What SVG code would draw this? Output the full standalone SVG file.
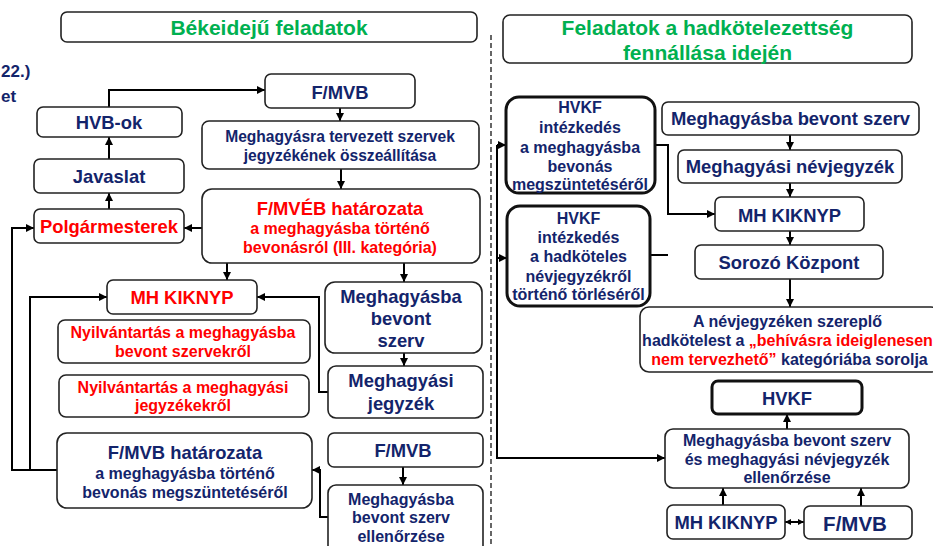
<svg xmlns="http://www.w3.org/2000/svg" width="933" height="546" viewBox="0 0 933 546">
<style>
text{font-family:"Liberation Sans",Arial,sans-serif;font-weight:bold;text-anchor:middle}
.b{fill:#fff;stroke:#222;stroke-width:1.6}
.t{fill:#fff;stroke:#111;stroke-width:3}
.n{fill:#13246b}
.r{fill:#ff0000}
.g{fill:#00b050}
.c{fill:none;stroke:#000;stroke-width:2}
.s15{font-size:15.6px}
.s16{font-size:16px}
.s18{font-size:18.4px}
.s21{font-size:21px}
</style>
<defs>
<marker id="ah" viewBox="0 0 10 10" refX="10" refY="5" markerWidth="8" markerHeight="8" markerUnits="userSpaceOnUse" orient="auto-start-reverse"><path d="M0,0 L10,5 L0,10 z" fill="#000"/></marker>
<marker id="as" viewBox="0 0 10 10" refX="10" refY="5" markerWidth="6" markerHeight="6" markerUnits="userSpaceOnUse" orient="auto-start-reverse"><path d="M0,0 L10,5 L0,10 z" fill="#000"/></marker>
</defs>

<g id="divider"><path d="M491,35 V546" fill="none" stroke="#000" stroke-width="1.2" stroke-dasharray="5,3"/></g>

<g id="fragment-text">
<text class="n" style="font-size:17px;text-anchor:start" x="1" y="77">22.)</text>
<text class="n" style="font-size:17px;text-anchor:start" x="1" y="102">et</text>
</g>

<g id="connectors">
<path class="c" d="M109,107 V90 H265" marker-end="url(#ah)"/>
<path class="c" d="M340,108 V121" marker-end="url(#ah)"/>
<path class="c" d="M341,169 V189" marker-end="url(#ah)"/>
<path class="c" d="M109,159 V137" marker-end="url(#ah)"/>
<path class="c" d="M109,209 V193" marker-end="url(#ah)"/>
<path class="c" d="M202,228 H184" marker-end="url(#ah)"/>
<path class="c" d="M227,263 V280" marker-end="url(#ah)"/>
<path class="c" d="M404,263 V282" marker-end="url(#ah)"/>
<path class="c" d="M404,353 V366" marker-end="url(#ah)"/>
<path class="c" d="M57,470 H12 V228 H34" marker-end="url(#ah)"/>
<path class="c" d="M30,470 V297 H107" marker-end="url(#ah)"/>
<path class="c" d="M328,392 H319 V297 H257" marker-end="url(#ah)"/>
<path class="c" d="M403,467 V485" marker-end="url(#ah)"/>
<path class="c" d="M328,517 H320 V470 H312" marker-end="url(#ah)"/>
<path class="c" d="M655,145 H668 V214 H715" marker-end="url(#ah)"/>
<path class="c" d="M650,255 H668"/>
<path class="c" d="M790,135 V150" marker-end="url(#ah)"/>
<path class="c" d="M790,183 V197" marker-end="url(#ah)"/>
<path class="c" d="M790,231 V245" marker-end="url(#ah)"/>
<path class="c" d="M790,279 V307" marker-end="url(#ah)"/>
<path class="c" d="M497,145 V458 H665" marker-end="url(#ah)"/>
<path class="c" d="M497,145 H506" marker-end="url(#ah)"/>
<path class="c" d="M497,258 H507" marker-end="url(#ah)"/>
<path class="c" d="M787,429 V414" marker-end="url(#ah)"/>
<path class="c" d="M723,505 V488" marker-end="url(#ah)"/>
<path class="c" d="M861,506 V488" marker-end="url(#ah)"/>
<path class="c" d="M785,522 H804" marker-start="url(#as)" marker-end="url(#as)"/>
</g>

<g id="title-left"><rect class="b" x="61" y="12" width="416" height="30" rx="6"/><text class="g s21" x="269" y="35">Békeidejű feladatok</text></g>
<g id="title-right"><rect class="b" x="503" y="15" width="409" height="48" rx="7"/><text class="g s21" x="707.5" y="35">Feladatok a hadkötelezettség</text><text class="g s21" x="707.5" y="60">fennállása idején</text></g>

<g id="fmvb-top"><rect class="b" x="265" y="74" width="150" height="34" rx="6"/><text class="n s18" x="340" y="99">F/MVB</text></g>
<g id="hvb-ok"><rect class="b" x="37" y="107" width="145" height="30" rx="6"/><text class="n s18" x="109" y="129">HVB-ok</text></g>
<g id="meghagyasra"><rect class="b" x="202" y="121" width="277" height="48" rx="7"/><text class="n s15" x="340" y="142">Meghagyásra tervezett szervek</text><text class="n s15" x="340" y="160.5">jegyzékének összeállítása</text></g>
<g id="javaslat"><rect class="b" x="34" y="159" width="150" height="34" rx="6"/><text class="n s18" x="109" y="183">Javaslat</text></g>
<g id="polgarmesterek"><rect class="b" x="34" y="209" width="150" height="34" rx="6"/><text class="r s18" x="109" y="233">Polgármesterek</text></g>
<g id="fmveb"><rect class="b" x="202" y="189" width="278" height="74" rx="10"/><text class="r s18" x="340" y="215">F/MVÉB határozata</text><text class="r s16" x="340" y="234">a meghagyásba történő</text><text class="r s16" x="340" y="253">bevonásról (III. kategória)</text></g>
<g id="mh-kiknyp-left"><rect class="b" x="107" y="280" width="150" height="34" rx="6"/><text class="r s18" x="182" y="304">MH KIKNYP</text></g>
<g id="bevont-szerv-left"><rect class="b" x="325" y="282" width="157" height="71" rx="10"/><text class="n s18" x="401" y="303">Meghagyásba</text><text class="n s18" x="401" y="325">bevont</text><text class="n s18" x="401" y="347">szerv</text></g>
<g id="nyilv-szervek"><rect class="b" x="58" y="320" width="252" height="43" rx="7"/><text class="r s16" x="183" y="338">Nyilvántartás a meghagyásba</text><text class="r s16" x="183" y="357">bevont szervekről</text></g>
<g id="nyilv-jegyzekek"><rect class="b" x="59" y="375" width="250" height="42" rx="7"/><text class="r s16" x="183" y="393">Nyilvántartás a meghagyási</text><text class="r s16" x="183" y="411">jegyzékekről</text></g>
<g id="meghagyasi-jegyzek"><rect class="b" x="328" y="366" width="155" height="52" rx="8"/><text class="n s18" x="401" y="387">Meghagyási</text><text class="n s18" x="401" y="410">jegyzék</text></g>
<g id="fmvb-hatarozata"><rect class="b" x="57" y="433" width="255" height="75" rx="10"/><text class="n s18" x="185" y="459">F/MVB határozata</text><text class="n s16" x="185" y="479">a meghagyásba történő</text><text class="n s16" x="185" y="498">bevonás megszüntetéséről</text></g>
<g id="fmvb-lower"><rect class="b" x="328" y="433" width="155" height="34" rx="6"/><text class="n s18" x="403" y="457">F/MVB</text></g>
<g id="ellenorzese-left"><rect class="b" x="328" y="485" width="155" height="70" rx="8"/><text class="n s16" x="401" y="505">Meghagyásba</text><text class="n s16" x="401" y="523">bevont szerv</text><text class="n s16" x="401" y="542">ellenőrzése</text></g>

<g id="hvkf1"><rect class="t" x="506" y="97" width="149" height="96" rx="13"/><text class="n s16" x="580" y="113">HVKF</text><text class="n s16" x="580" y="133">intézkedés</text><text class="n s16" x="580" y="153">a meghagyásba</text><text class="n s16" x="580" y="172">bevonás</text><text class="n s16" x="580" y="190">megszüntetéséről</text></g>
<g id="hvkf2"><rect class="t" x="507" y="206" width="143" height="100" rx="13"/><text class="n s16" x="578.5" y="224">HVKF</text><text class="n s16" x="578.5" y="243">intézkedés</text><text class="n s16" x="578.5" y="262">a hadköteles</text><text class="n s16" x="578.5" y="282">névjegyzékről</text><text class="n s16" x="578.5" y="300">történő törléséről</text></g>
<g id="bevont-szerv-right"><rect class="b" x="662" y="102" width="257" height="33" rx="6"/><text class="n s18" x="790.5" y="125">Meghagyásba bevont szerv</text></g>
<g id="nevjegyzek"><rect class="b" x="678" y="150" width="224" height="33" rx="6"/><text class="n s18" x="790" y="173">Meghagyási névjegyzék</text></g>
<g id="mh-kiknyp-right"><rect class="b" x="715" y="197" width="149" height="34" rx="6"/><text class="n s18" x="789.5" y="222">MH KIKNYP</text></g>
<g id="sorozo"><rect class="b" x="695" y="245" width="188" height="34" rx="6"/><text class="n s18" x="789" y="269">Sorozó Központ</text></g>
<g id="kategoria"><rect class="b" x="640" y="307" width="300" height="65" rx="9"/><text class="n s16" x="787.5" y="327">A névjegyzéken szereplő</text><text class="n s16" x="787.5" y="346">hadkötelest a <tspan class="r">„behívásra ideiglenesen</tspan></text><text class="n s16" x="789.5" y="365"><tspan class="r">nem tervezhető”</tspan> kategóriába sorolja</text></g>
<g id="hvkf-bottom"><rect class="t" x="712" y="381" width="150" height="33" rx="6"/><text class="n s18" x="787" y="405">HVKF</text></g>
<g id="ellenorzese-right"><rect class="b" x="665" y="429" width="244" height="59" rx="8"/><text class="n s16" x="787" y="446">Meghagyásba bevont szerv</text><text class="n s16" x="787" y="465">és meghagyási névjegyzék</text><text class="n s16" x="787" y="483">ellenőrzése</text></g>
<g id="mh-kiknyp-bottom"><rect class="b" x="667" y="505" width="118" height="34" rx="6"/><text class="n s18" x="726" y="529">MH KIKNYP</text></g>
<g id="fmvb-bottom"><rect class="b" x="804" y="506" width="108" height="33" rx="6"/><text class="n" style="font-size:20.5px" x="855" y="531">F/MVB</text></g>
</svg>
